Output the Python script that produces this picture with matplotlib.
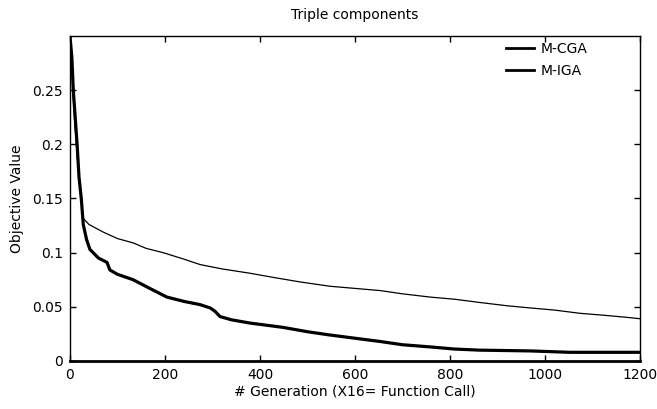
import matplotlib
matplotlib.use("Agg")
import matplotlib.pyplot as plt

# M-CGA (thin line)
cga_x = [0, 3, 6, 10, 15, 20, 27, 40, 70, 100, 133, 160, 196, 240, 274, 320,
         379, 430, 484, 547, 600, 653, 700, 758, 810, 863, 920, 968, 1020,
         1074, 1130, 1179, 1200]
cga_y = [0.30, 0.28, 0.25, 0.22, 0.19, 0.165, 0.132, 0.126, 0.119, 0.113,
         0.109, 0.104, 0.100, 0.094, 0.089, 0.085, 0.081, 0.077, 0.073, 0.069,
         0.067, 0.065, 0.062, 0.059, 0.057, 0.054, 0.051, 0.049, 0.047, 0.044,
         0.042, 0.040, 0.039]

# M-IGA (thick line)
iga_x = [0, 4, 7, 11, 15, 19, 24, 28, 35, 42, 60, 78, 84, 100, 133, 168, 204,
         240, 274, 295, 305, 316, 340, 379, 449, 500, 547, 600, 653, 700, 758,
         810, 863, 968, 1053, 1200]
iga_y = [0.30, 0.28, 0.25, 0.225, 0.20, 0.17, 0.149, 0.126, 0.112, 0.103,
         0.095, 0.091, 0.084, 0.080, 0.075, 0.067, 0.059, 0.055, 0.052, 0.049,
         0.046, 0.041, 0.038, 0.035, 0.031, 0.027, 0.024, 0.021, 0.018, 0.015,
         0.013, 0.011, 0.010, 0.0093, 0.008, 0.008]

x_ticks = [0, 200, 400, 600, 800, 1000, 1200]
y_ticks = [0, 0.05, 0.1, 0.15, 0.2, 0.25]
y_labels = ["0", "0.05", "0.1", "0.15", "0.2", "0.25"]

plt.rcParams.update({"font.family": "DejaVu Sans", "font.size": 10})

fig = plt.figure(figsize=(6.57, 4.09), dpi=100)
ax = fig.add_axes([0.1065, 0.1174, 0.8675, 0.7946])

ax.plot(cga_x, cga_y, color="black", lw=0.9, label="M-CGA")
ax.plot(iga_x, iga_y, color="black", lw=2.3, label="M-IGA")

ax.set_xlim(0, 1200)
ax.set_ylim(0, 0.3)
ax.set_xticks(x_ticks)
ax.set_yticks(y_ticks)
ax.set_yticklabels(y_labels)
ax.tick_params(direction="in", length=4, width=1, top=True, right=True,
               labelsize=10, pad=5)
for s in ax.spines.values():
    s.set_linewidth(1.0)
ax.spines["bottom"].set_linewidth(2.0)

ax.set_title("Triple components", fontsize=10, pad=12)
ax.set_xlabel("# Generation (X16= Function Call)", fontsize=10, labelpad=2)
ax.set_ylabel("Objective Value", fontsize=10, labelpad=6)

leg = ax.legend(loc="upper right", frameon=False, handlelength=2.0,
                handletextpad=0.5, labelspacing=0.6, fontsize=10,
                bbox_to_anchor=(0.93, 1.02))
for h in leg.legend_handles:
    h.set_linewidth(2.0)

fig.savefig("out.png", dpi=100)
